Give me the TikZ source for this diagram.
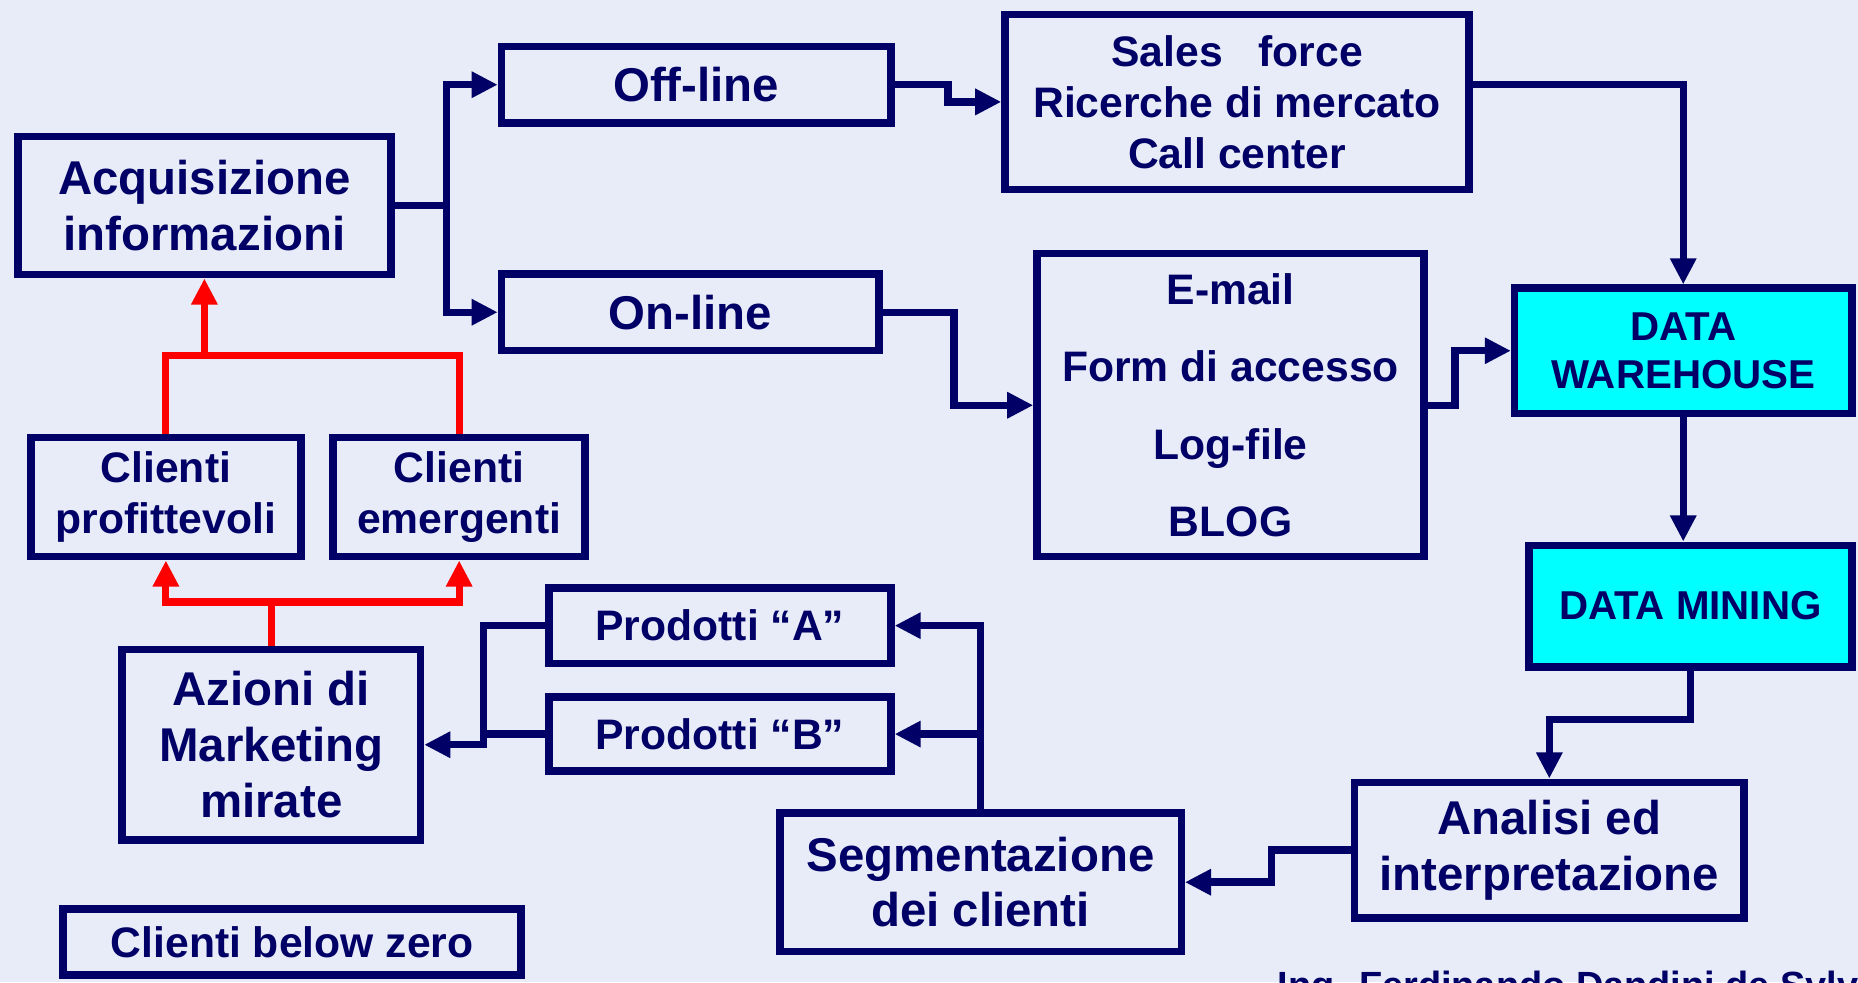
\documentclass[tikz,border=0pt]{standalone}
\usepackage{fontspec}
\setmainfont{Liberation Sans}
\usetikzlibrary{arrows.meta}
\definecolor{navy}{RGB}{0,0,102}
\definecolor{bgc}{RGB}{231,236,248}
\definecolor{cyanbox}{RGB}{0,255,255}
\begin{document}
\begin{tikzpicture}[x=1pt,y=-1pt,
  box/.style={draw=navy, line width=6.3pt, text=navy, align=center, inner sep=0pt},
  sz/.style 2 args={minimum width=#1pt, minimum height=#2pt},
  fbig/.style={font=\fontsize{40}{47}\selectfont\bfseries},
  fmid/.style={font=\fontsize{36}{43}\selectfont\bfseries},
  fdat/.style={font=\fontsize{34}{41}\selectfont\bfseries},
  conn/.style={draw=navy, line width=6.3pt},
  arr/.style={conn, -{Triangle[length=22pt,width=21pt]}},
  rconn/.style={draw=red, line width=6pt},
  rarr/.style={rconn, -{Triangle[length=22pt,width=21pt]}}]
\fill[bgc] (0,0) rectangle (1568,829);
\useasboundingbox (0,0) rectangle (1568,829);
\clip (0,0) rectangle (1568,829);

\node[box, fbig, sz={314.7}{116.7}] (acq) at (172.5,173.5) {Acquisizione\\informazioni};
\node[box, fbig, sz={328.7}{64.7}] (off) at (587.5,71.5) {Off-line};
\node[box, fbig, sz={318.7}{64.7}] (on) at (582.5,263.5) {On-line};
\node[box, fmid, sz={391.7}{147.7}] (sales) at (1044,86) {Sales\ \ \ force\\Ricerche di mercato\\Call center};
\node[box, font=\fontsize{36}{65}\selectfont\bfseries, sz={326.7}{255.7}] (email) at (1038.5,342) {E-mail\\Form di accesso\\Log-file\\BLOG};
\node[box, fill=cyanbox, fdat, sz={284.7}{105.7}] (dw) at (1420.5,296) {DATA\\WAREHOUSE};
\node[box, fill=cyanbox, fdat, sz={272.7}{102.7}] (dm) at (1426.5,511.5) {DATA MINING};
\node[box, fbig, sz={328.7}{114.7}] (ana) at (1307.5,717.5) {Analisi ed\\interpretazione};
\node[box, fbig, sz={338.7}{116.7}] (seg) at (827.5,744.5) {Segmentazione\\dei clienti};
\node[box, fmid, sz={288.7}{63.7}] (pa) at (607.5,528) {Prodotti “A”};
\node[box, fmid, sz={288.7}{62.7}] (pb) at (607.5,619.5) {Prodotti “B”};
\node[box, fbig, sz={251.7}{160.7}] (az) at (229,628.5) {Azioni di\\Marketing\\mirate};
\node[box, fmid, sz={227.7}{100.7}] (cp) at (140,419.5) {Clienti\\profittevoli};
\node[box, fmid, sz={212.7}{100.7}] (ce) at (387.5,419.5) {Clienti\\emergenti};
\node[box, fmid, sz={386.7}{55.7}] (bz) at (246.5,795) {Clienti below zero};
\node[text=navy, font=\fontsize{32}{38}\selectfont\bfseries, anchor=base west, inner sep=0pt] (sig) at (1078,843) {Ing. Ferdinando Dandini de Sylva};

\coordinate (j1) at (377,173.5);
\draw[conn] (acq.east) -- (j1);
\draw[arr] (j1) |- (off.west);
\draw[arr] (j1) |- (on.west);
\coordinate (b1) at (800,71.5);
\draw[arr] (off.east) -- (b1) |- (sales.west);
\coordinate (b2) at (805,263.5);
\draw[arr] (on.east) -- (b2) |- (email.west);
\draw[arr] (sales.east |- off.east) -| (dw.north);
\coordinate (b3) at (1228,342);
\draw[arr] (email.east) -- (b3) |- (dw.west);
\draw[arr] (dw.south) -- (dw.south |- dm.north);
\coordinate (k1) at (1426.5,607);
\draw[arr] (dm.south) -- (k1) -| (ana.north);
\coordinate (b4) at (1073,717.5);
\draw[arr] (ana.west) -- (b4) |- (seg.east);
\draw[arr] (seg.north) |- (pa.east);
\draw[arr] (seg.north |- pb.east) -- (pb.east);
\coordinate (j4) at (408,628.5);
\draw[arr] (pa.west) -| (j4) -- (az.east);
\draw[conn] (pb.west) -- (pb.west -| j4);

\coordinate (r1) at (229,508);
\draw[rconn] (az.north) -- (r1);
\draw[rarr] (r1) -| (cp.south);
\draw[rarr] (r1) -| (ce.south);
\coordinate (r2) at (172.5,300);
\draw[rconn] (cp.north) |- (r2) -| (ce.north);
\draw[rarr] (r2) -- (acq.south);
\end{tikzpicture}
\end{document}
